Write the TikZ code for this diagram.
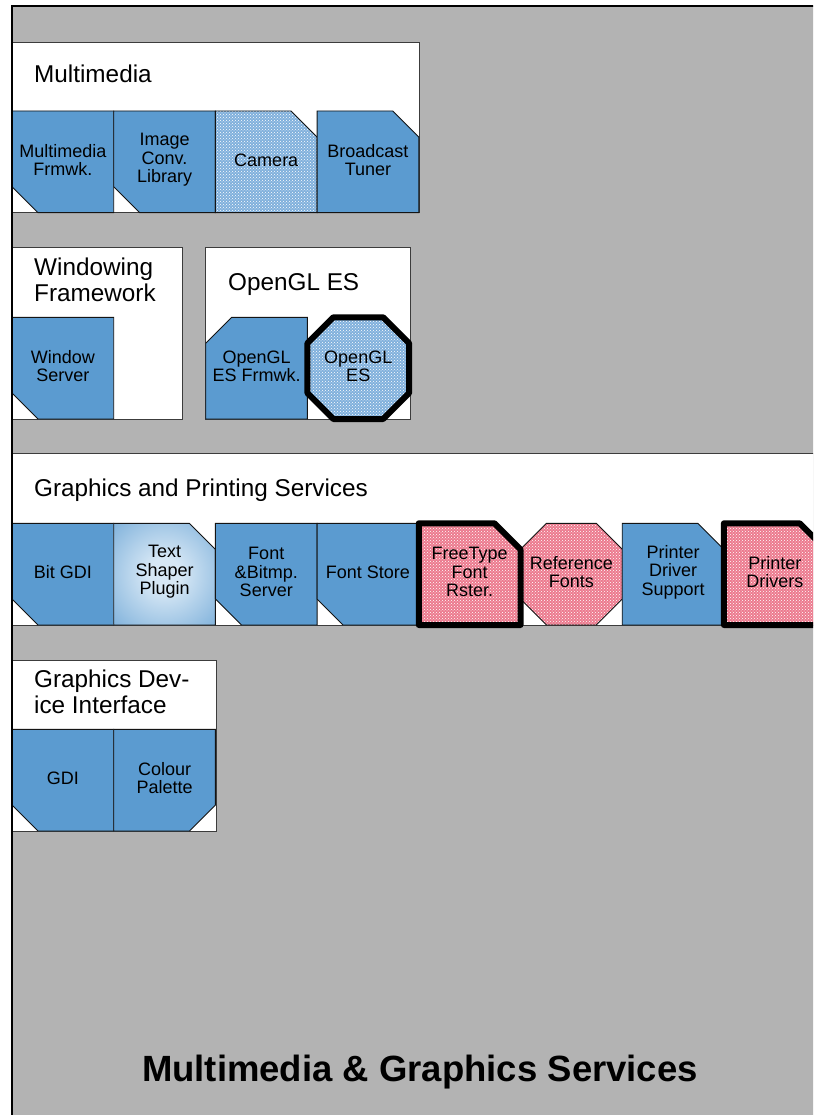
\documentclass[tikz,border=0pt]{standalone}
\usepackage{fontspec}
\setmainfont{Liberation Sans}
\usetikzlibrary{patterns}

\definecolor{bgrey}{RGB}{179,179,179}
\definecolor{compblue}{RGB}{91,155,208}
\definecolor{dotblue}{RGB}{128,176,220}
\definecolor{dotpink}{RGB}{236,122,142}
\definecolor{glow}{RGB}{214,231,245}
\definecolor{edge}{RGB}{20,20,20}
\definecolor{boxedge}{RGB}{60,60,60}

\pgfdeclareradialshading{shaperglow}{\pgfpoint{0bp}{0bp}}%
  {color(0bp)=(glow); color(8bp)=(glow); color(48bp)=(compblue); color(50bp)=(compblue)}

% component size
\def\bw{101.7}
\def\bh{101.7}
% box with chamfered corners: x, y(top), cut tl, tr, br, bl
\newcommand\chamfer[6]{(#1+#3,#2) -- (#1+\bw-#4,#2) -- (#1+\bw,#2+#4) -- (#1+\bw,#2+\bh-#5)
  -- (#1+\bw-#5,#2+\bh) -- (#1+#6,#2+\bh) -- (#1,#2+\bh-#6) -- (#1,#2+#3) -- cycle}

\tikzset{
  comp/.style={draw=edge, line width=0.9pt, fill=compblue},
  compdots/.style={draw=edge, line width=0.9pt, preaction={fill=#1},
    preaction={pattern=crosshatch dots, pattern color=white}},
  heavy/.style={draw=black, line width=6pt, line join=round},
  container/.style={draw=boxedge, fill=white, line width=0.9pt},
  lbl/.style={font=\fontsize{18}{18.5}\selectfont, align=center, inner sep=0pt, text=black, yshift=2pt},
  hdr/.style={font=\fontsize{24.3}{25.5}\selectfont, align=left, anchor=base west, inner sep=0pt, text=black},
}

\begin{document}
\begin{tikzpicture}[x=1pt, y=-1pt]
\useasboundingbox (0,0) rectangle (813,1115);
\clip (0,0) rectangle (813,1115);
\fill[white] (0,0) rectangle (813,1115);

% outer layer
\fill[bgrey] (12,6.5) rectangle (840,1140);

% ---------- Multimedia ----------
\draw[container] (12,42) rectangle (419.3,212.7);
\node[hdr] (mmt) at (34,83) {Multimedia};
\draw[comp] \chamfer{12}{111}{0}{0}{0}{26};
\node[lbl] (mmf) at (12+\bw/2,111+\bh/2) {Multimedia\\Frmwk.};
\draw[comp] \chamfer{113.7}{111}{0}{0}{0}{26};
\node[lbl] (icl) at (113.7+\bw/2,111+\bh/2) {Image\\Conv.\\Library};
\draw[compdots=dotblue] \chamfer{215.4}{111}{0}{26}{0}{0};
\node[lbl] (cam) at (215.4+\bw/2,111+\bh/2) {Camera};
\draw[comp] \chamfer{317.1}{111}{0}{26}{0}{0};
\node[lbl] (btu) at (317.1+\bw/2,111+\bh/2) {Broadcast\\Tuner};

% ---------- Windowing Framework ----------
\draw[container] (12,247.7) rectangle (182.7,419);
\node[hdr] (wft) at (34,301) {Windowing\\Framework};
\draw[comp] \chamfer{12}{317.3}{0}{0}{0}{26};
\node[lbl] (wsv) at (12+\bw/2,317.3+\bh/2) {Window\\Server};

% ---------- OpenGL ES ----------
\draw[container] (205.7,247.7) rectangle (410,419);
\node[hdr] (oglt) at (228,290) {OpenGL ES};
\draw[comp] \chamfer{205.7}{317.3}{26}{0}{0}{0};
\node[lbl] (oglf) at (205.7+\bw/2,317.3+\bh/2) {OpenGL\\ES Frmwk.};
\draw[compdots=dotblue, heavy] \chamfer{307.4}{317.3}{26}{26}{26}{26};
\node[lbl] (ogl) at (307.4+\bw/2,317.3+\bh/2) {OpenGL\\ES};

% ---------- Graphics and Printing Services ----------
\draw[container] (12,453.3) rectangle (840,625);
\node[hdr] (gpst) at (34,496) {Graphics and Printing Services};
\draw[comp] \chamfer{12}{523.3}{0}{0}{0}{26};
\node[lbl] (bgdi) at (12+\bw/2,523.3+\bh/2) {Bit GDI};
\shade[shading=shaperglow, draw=edge, line width=0.9pt] \chamfer{113.7}{523.3}{0}{26}{0}{0};
\node[lbl] (tsp) at (113.7+\bw/2,523.3+\bh/2) {Text\\Shaper\\Plugin};
\draw[comp] \chamfer{215.4}{523.3}{0}{0}{0}{26};
\node[lbl] (fbs) at (215.4+\bw/2,523.3+\bh/2) {Font\\\&Bitmp.\\Server};
\draw[comp] \chamfer{317.1}{523.3}{0}{0}{0}{26};
\node[lbl] (fst) at (317.1+\bw/2,523.3+\bh/2) {Font Store};
\draw[compdots=dotpink] \chamfer{520.5}{523.3}{26}{26}{26}{26};
\node[lbl] (rfn) at (520.5+\bw/2,523.3+\bh/2) {Reference\\Fonts};
\draw[comp] \chamfer{622.2}{523.3}{0}{26}{0}{0};
\node[lbl] (pds) at (622.2+\bw/2,523.3+\bh/2) {Printer\\Driver\\Support};
\draw[compdots=dotpink, heavy] \chamfer{418.8}{523.3}{0}{26}{0}{0};
\node[lbl] (ftr) at (418.8+\bw/2,523.3+\bh/2) {FreeType\\Font\\Rster.};
\draw[compdots=dotpink, heavy] \chamfer{723.9}{523.3}{0}{26}{0}{0};
\node[lbl] (pdr) at (723.9+\bw/2,523.3+\bh/2) {Printer\\Drivers};

% ---------- Graphics Device Interface ----------
\draw[container] (12,660) rectangle (216.2,831);
\node[hdr] (gdit) at (34,713) {Graphics Dev-\\ice Interface};
\draw[comp] \chamfer{12}{729.3}{0}{0}{0}{26};
\node[lbl] (gdi) at (12+\bw/2,729.3+\bh/2) {GDI};
\draw[comp] \chamfer{113.7}{729.3}{0}{0}{26}{0};
\node[lbl] (cpl) at (113.7+\bw/2,729.3+\bh/2) {Colour\\Palette};

% layer title and frame
\node[font=\fontsize{36.5}{40}\selectfont\bfseries, anchor=base, inner sep=0pt] (title)
  at (420,1081.7) {Multimedia \& Graphics Services};
\draw[line width=2pt] (12,1140) -- (12,6.5) -- (840,6.5);
\end{tikzpicture}
\end{document}
